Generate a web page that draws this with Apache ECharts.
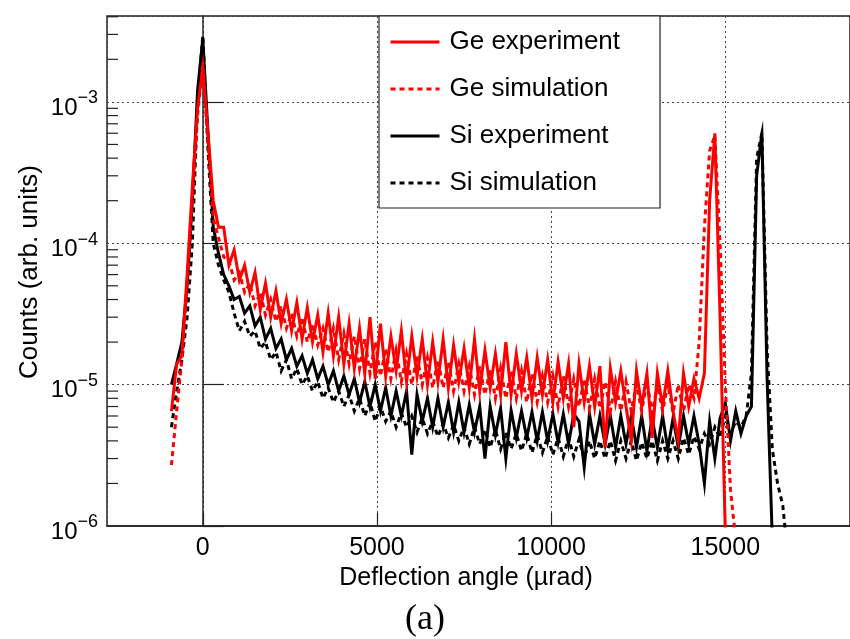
<!DOCTYPE html>
<html><head><meta charset="utf-8">
<script src="https://cdn.jsdelivr.net/npm/echarts@6/dist/echarts.min.js"></script>
<style>html,body{margin:0;padding:0;background:#fff}#c{width:850px;height:639px}</style>
</head><body><div id="c"></div>
<script>
// Deflection angle bin centres (µrad)
const angles = [
-900,-750,-600,-450,-300,-150,0,150,300,450,
600,750,900,1050,1200,1350,1500,1650,1800,1950,
2100,2250,2400,2550,2700,2850,3000,3150,3300,3450,
3600,3750,3900,4050,4200,4350,4500,4650,4800,4950,
5100,5250,5400,5550,5700,5850,6000,6150,6300,6450,
6600,6750,6900,7050,7200,7350,7500,7650,7800,7950,
8100,8250,8400,8550,8700,8850,9000,9150,9300,9450,
9600,9750,9900,10050,10200,10350,10500,10650,10800,10950,
11100,11250,11400,11550,11700,11850,12000,12150,12300,12450,
12600,12750,12900,13050,13200,13350,13500,13650,13800,13950,
14100,14250,14400,14550,14700,14850,15000,15150,15300,15450,
15600,15750,15900,16050,16200,16350,16500,16650,16800];

const geExp = [
6.5e-6,14e-6,16e-6,60e-6,250e-6,900e-6,1750e-6,600e-6,200e-6,130e-6,
130e-6,70e-6,90e-6,55e-6,70e-6,45e-6,62e-6,34e-6,52e-6,30e-6,
46e-6,27e-6,40e-6,24e-6,38e-6,21e-6,35e-6,20e-6,31e-6,17e-6,
32e-6,16e-6,30e-6,14e-6,27e-6,13e-6,25e-6,12e-6,30e-6,11e-6,
27e-6,11.5e-6,22e-6,12.5e-6,24e-6,10.5e-6,22e-6,11.5e-6,21e-6,10e-6,
20e-6,10.5e-6,21e-6,9.5e-6,19e-6,10.5e-6,18e-6,9.5e-6,21e-6,9e-6,
17.5e-6,9.5e-6,16.5e-6,8.5e-6,20e-6,8.5e-6,16.5e-6,9e-6,15.5e-6,8e-6,
15.5e-6,8.5e-6,15e-6,7.5e-6,14.5e-6,8e-6,14e-6,5e-6,14e-6,7.5e-6,
13.5e-6,7e-6,13.5e-6,3.6e-6,13e-6,7.5e-6,12.5e-6,7e-6,4e-6,12.5e-6,
7e-6,12e-6,4.2e-6,12e-6,7e-6,12.5e-6,6.5e-6,4e-6,12e-6,7e-6,
11e-6,8e-6,12e-6,200e-6,600e-6,30e-6,0.9e-6,null,null,null,
null,null,null,null,null,null,null,null,null];

const geSim = [
2.7e-6,6.5e-6,15e-6,50e-6,200e-6,800e-6,1850e-6,500e-6,150e-6,110e-6,
80e-6,75e-6,55e-6,62e-6,45e-6,52e-6,36e-6,45e-6,31e-6,40e-6,
28e-6,36e-6,25e-6,32e-6,22e-6,30e-6,20e-6,27e-6,19e-6,25e-6,
17e-6,25e-6,15e-6,23e-6,14e-6,22e-6,13e-6,21e-6,12e-6,20e-6,
11.5e-6,18e-6,11e-6,17.5e-6,10.5e-6,16.5e-6,10e-6,16e-6,10e-6,15.5e-6,
9.5e-6,15e-6,9.5e-6,14.5e-6,9e-6,14e-6,9e-6,13.5e-6,8.5e-6,13.5e-6,
8.5e-6,13e-6,8e-6,13e-6,8e-6,12.5e-6,8e-6,12.5e-6,7.5e-6,12e-6,
7.5e-6,11.5e-6,7.5e-6,11.5e-6,7e-6,11.5e-6,7e-6,11e-6,7e-6,11e-6,
6.8e-6,11e-6,6.8e-6,10.5e-6,6.5e-6,10.5e-6,6.5e-6,10.5e-6,6.5e-6,10e-6,
6.5e-6,10.5e-6,6.3e-6,10e-6,6.5e-6,10e-6,6.3e-6,10e-6,6.5e-6,10e-6,
8e-6,20e-6,130e-6,450e-6,580e-6,100e-6,10e-6,1.8e-6,0.8e-6,null,
null,null,null,null,null,null,null,null,null];

const siExp = [
10e-6,14e-6,20e-6,50e-6,200e-6,1200e-6,2800e-6,600e-6,130e-6,85e-6,
60e-6,50e-6,40e-6,42e-6,32e-6,36e-6,26e-6,30e-6,21e-6,25e-6,
18e-6,21e-6,15e-6,18e-6,13.5e-6,16e-6,12e-6,15e-6,11e-6,13.5e-6,
10e-6,12.5e-6,9e-6,11.5e-6,8.5e-6,11e-6,7.5e-6,10.5e-6,7e-6,10e-6,
6.5e-6,9.5e-6,6e-6,9e-6,6e-6,9e-6,3.2e-6,8.5e-6,5.5e-6,8e-6,
5e-6,8e-6,5e-6,7.5e-6,4.6e-6,7.5e-6,4.6e-6,7.2e-6,4.6e-6,7e-6,
3e-6,7e-6,4.4e-6,6.8e-6,3e-6,6.6e-6,4.2e-6,6.5e-6,4.2e-6,6.4e-6,
4e-6,6.4e-6,4e-6,6.2e-6,3.9e-6,6.2e-6,3.8e-6,6.2e-6,5.5e-6,2.6e-6,
6.2e-6,3.8e-6,6e-6,3.8e-6,6e-6,3.6e-6,6e-6,3.8e-6,6e-6,3.6e-6,
6e-6,3.4e-6,5.8e-6,3.6e-6,6e-6,3.5e-6,5.8e-6,3.6e-6,6e-6,3.8e-6,
6e-6,3.8e-6,2e-6,5.5e-6,3e-6,5.8e-6,7.4e-6,4e-6,6.5e-6,4.5e-6,
6e-6,7e-6,300e-6,600e-6,11e-6,0.8e-6,null,null,null];

const siSim = [
5e-6,9e-6,15e-6,30e-6,100e-6,1000e-6,2950e-6,450e-6,100e-6,70e-6,
55e-6,45e-6,32e-6,24e-6,28e-6,22e-6,24e-6,18e-6,20e-6,15e-6,
17e-6,12.5e-6,15e-6,11e-6,13e-6,10e-6,11.5e-6,9e-6,10.5e-6,8e-6,
9.5e-6,7.5e-6,9e-6,7e-6,8.5e-6,6.5e-6,8e-6,6e-6,7.5e-6,5.5e-6,
7e-6,5.5e-6,6.5e-6,5e-6,6.3e-6,5e-6,6e-6,4.6e-6,5.8e-6,4.5e-6,
5.5e-6,4.3e-6,5.3e-6,4.2e-6,5.2e-6,4e-6,5e-6,3.8e-6,5e-6,3.8e-6,
4.8e-6,3.6e-6,4.8e-6,3.5e-6,4.6e-6,3.5e-6,4.5e-6,3.4e-6,4.5e-6,3.3e-6,
4.4e-6,3.3e-6,4.3e-6,3.2e-6,4.2e-6,3.1e-6,4.2e-6,3.1e-6,4.1e-6,3e-6,
4e-6,3e-6,4e-6,3e-6,4e-6,2.9e-6,4e-6,3e-6,4e-6,2.9e-6,
3.9e-6,3e-6,4e-6,2.9e-6,4e-6,3e-6,4e-6,3e-6,4.2e-6,3.2e-6,
4.3e-6,3.5e-6,4.5e-6,3.8e-6,5e-6,4.2e-6,6e-6,4.5e-6,5.5e-6,5e-6,
6e-6,12e-6,400e-6,600e-6,18e-6,3.5e-6,2e-6,1.4e-6,0.6e-6];

const minorTickValues = [
2e-6,3e-6,4e-6,5e-6,6e-6,7e-6,8e-6,9e-6,
2e-5,3e-5,4e-5,5e-5,6e-5,7e-5,8e-5,9e-5,
2e-4,3e-4,4e-4,5e-4,6e-4,7e-4,8e-4,9e-4,
2e-3,3e-3,4e-3];

const X_MIN = -2750, X_MAX = 18580, Y_MIN = 1e-6, Y_MAX = 4.05e-3;
const F = 'Liberation Sans, Arial, Helvetica, sans-serif';
const AX = '#222';

function pairs(arr){ return angles.map((a,i)=>[a, arr[i]]); }
function lineSeries(name, arr, color, dashed, z){
  return {
    name, type:'line', data:pairs(arr), showSymbol:false, symbol:'none',
    animation:false, sampling:null, connectNulls:false, z,
    lineStyle:{color, width:3, type: dashed ? [5,4] : 'solid', join:'miter', miterLimit:10},
    itemStyle:{color}
  };
}

const chart = echarts.init(document.getElementById('c'), null, {renderer:'canvas'});
chart.setOption({
  animation:false,
  backgroundColor:'#fff',
  grid:{left:107, top:16, right:-1, bottom:113, show:true, borderColor:AX, borderWidth:1.5, backgroundColor:'transparent'},
  xAxis:{
    type:'value', min:X_MIN, max:X_MAX, splitNumber:4,
    axisLine:{show:true, onZero:false, lineStyle:{color:AX, width:1.5}},
    axisTick:{show:true, inside:true, length:13, lineStyle:{color:AX, width:1.2}},
    axisLabel:{showMinLabel:false, showMaxLabel:false, fontSize:25, color:'#000', fontFamily:F, margin:10,
      formatter: v => String(Math.round(v))},
    splitLine:{show:true, lineStyle:{type:[2,3], color:'#444', width:1}}
  },
  yAxis:{
    type:'log', logBase:10, min:Y_MIN, max:Y_MAX,
    axisLine:{show:true, lineStyle:{color:AX, width:1.5}},
    axisTick:{show:true, inside:true, length:21, lineStyle:{color:AX, width:1.2}},
    axisLabel:{
      showMaxLabel:false, margin:9,
      formatter: v => { const e = Math.round(Math.log10(v)); return '{h|\u200b}{b|10}{s|' + (e<0?'\u2212':'') + Math.abs(e) + '}'; },
      rich:{
        h:{fontSize:10, lineHeight:36, fontFamily:F},
        b:{fontSize:24, lineHeight:24, verticalAlign:'bottom', fontFamily:F, color:'#000'},
        s:{fontSize:18, lineHeight:18, verticalAlign:'middle', padding:[0,0,7,0], fontFamily:F, color:'#000'}
      }
    },
    splitLine:{show:true, lineStyle:{type:[2,3], color:'#444', width:1}}
  },
  legend:{
    orient:'vertical', left:379, top:16,
    data:['Ge experiment','Ge simulation','Si experiment','Si simulation'],
    itemWidth:49, itemHeight:14, itemGap:21,
    padding:[13,40,12,10],
    borderColor:AX, borderWidth:1.2, backgroundColor:'#fff',
    itemStyle:{opacity:0, color:'transparent', borderWidth:0},
    lineStyle:{width:3},
    textStyle:{fontSize:26, lineHeight:26, color:'#000', fontFamily:F, padding:[0,0,0,5]},
    selectedMode:false
  },
  graphic:[
    {type:'text', x:466, y:578, style:{text:'Deflection angle (\u00b5rad)', fontSize:25, fontFamily:F, fill:'#000', align:'center', verticalAlign:'middle'}},
    {type:'text', x:30, y:272, rotation:Math.PI/2, style:{text:'Counts (arb. units)', fontSize:26, fontFamily:F, fill:'#000', align:'center', verticalAlign:'middle'}},
    {type:'text', x:425, y:620, style:{text:'(a)', fontSize:36, fontFamily:'Liberation Serif, Times New Roman, serif', fill:'#000', align:'center', verticalAlign:'middle'}}
  ],
  series:[
    lineSeries('Si simulation', siSim, '#000000', true, 2),
    lineSeries('Si experiment', siExp, '#000000', false, 2),
    lineSeries('Ge simulation', geSim, '#ff0000', true, 2),
    lineSeries('Ge experiment', geExp, '#ff0000', false, 2),
    {
      type:'custom', silent:true, animation:false, z:5,
      data: minorTickValues.map(v=>[X_MIN, v]),
      renderItem:(params, api)=>{
        const p = api.coord([api.value(0), api.value(1)]);
        return {type:'line', shape:{x1:p[0], y1:p[1], x2:p[0]+11, y2:p[1]}, style:{stroke:AX, lineWidth:1.2}};
      }
    }
  ]
});
</script>
</body></html>
